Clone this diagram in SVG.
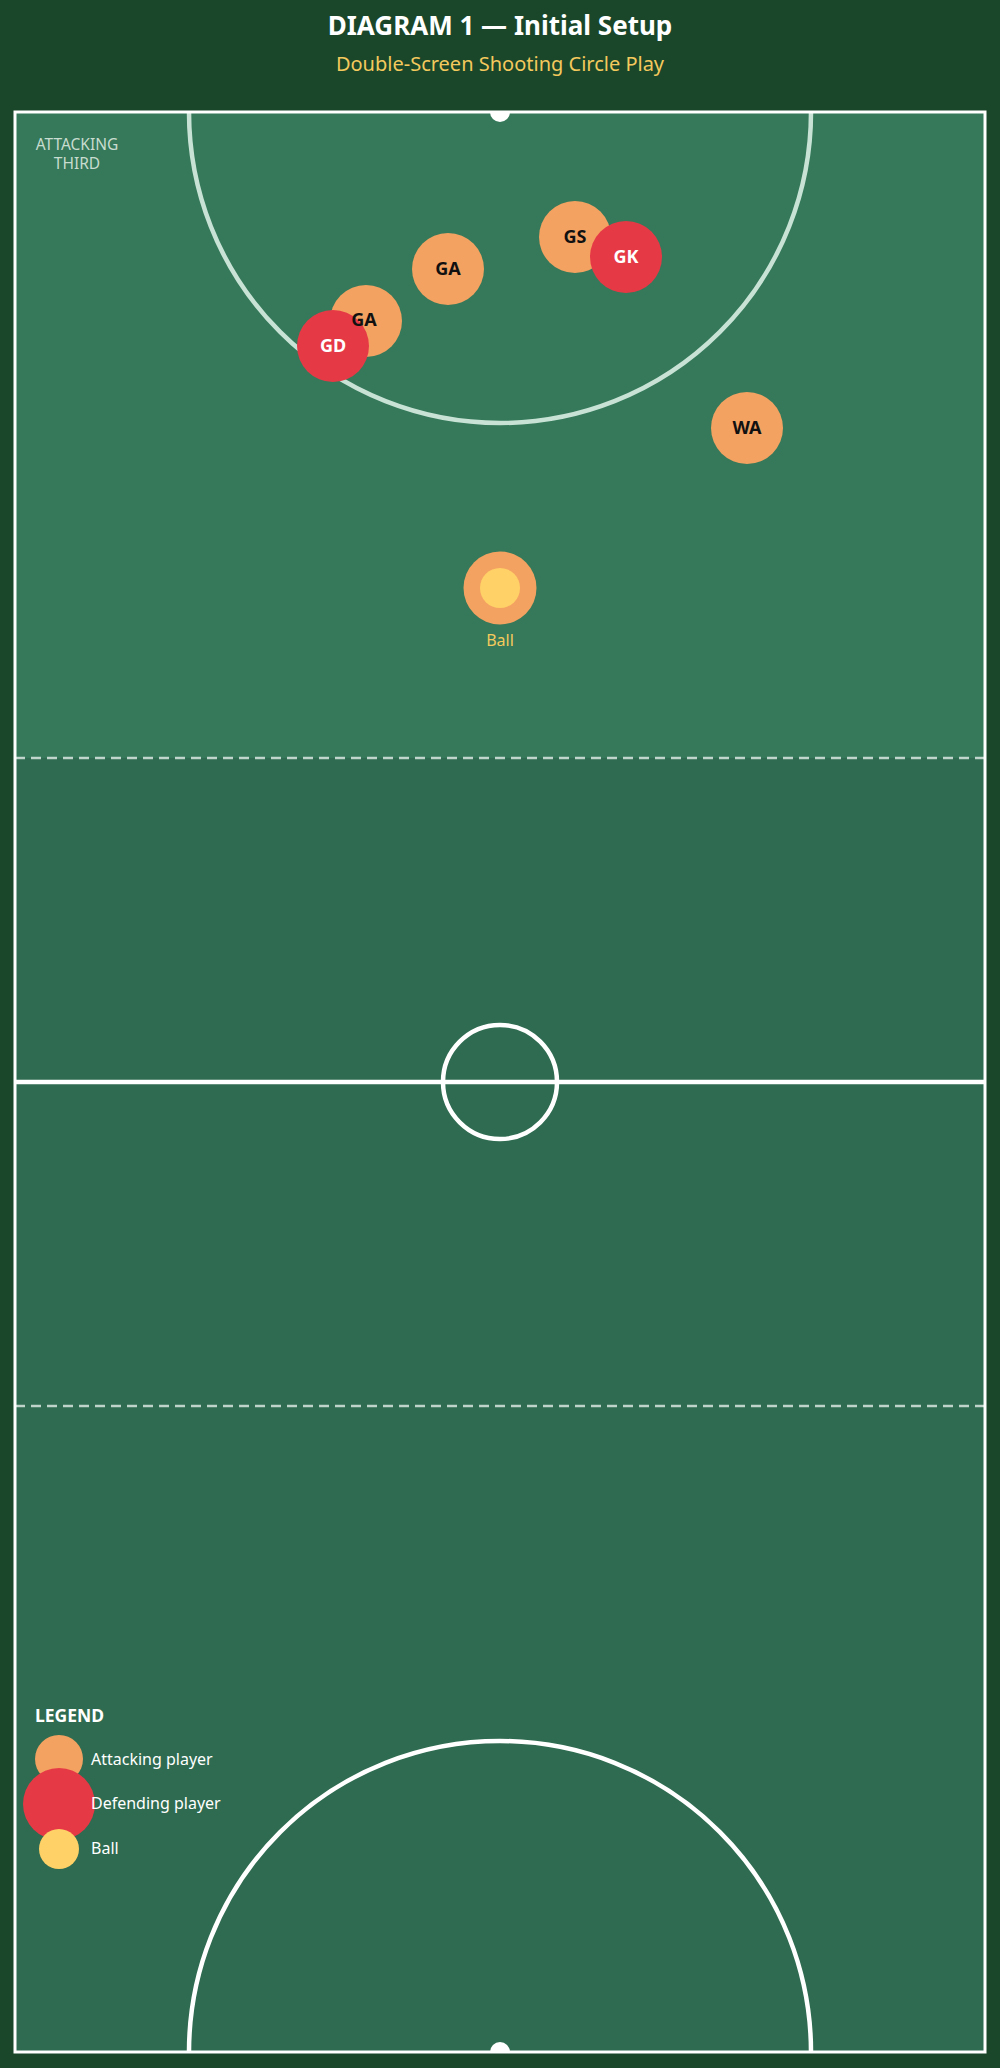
<svg xmlns="http://www.w3.org/2000/svg" width="1000" height="2068" viewBox="0 0 1000 2068">
<style>
text{font-family:"Noto Sans","Open Sans","Liberation Sans",sans-serif}
.title{font-size:26px;font-weight:700;fill:#ffffff}
.sub{font-size:20px;fill:#f4c95d}
.lbl{font-size:18px;font-weight:700;text-anchor:middle}
.att{fill:#f4a261}
.def{fill:#e63946}
.ball{fill:#ffd166}
.line{fill:none;stroke:#ffffff;stroke-width:4.5}
.dash{fill:none;stroke:#ffffff;stroke-opacity:0.7;stroke-width:2.5;stroke-dasharray:10 6}
.leg{font-size:16px;fill:#ffffff}
</style>
<rect x="0" y="0" width="1000" height="2068" fill="#1a472a"/>
<text class="title" x="500" y="35" text-anchor="middle">DIAGRAM 1 — Initial Setup</text>
<text class="sub" x="500" y="71" text-anchor="middle">Double-Screen Shooting Circle Play</text>
<g id="court">
<rect x="15" y="112" width="970" height="1940" fill="#2e6b50"/>
<rect x="15" y="112" width="970" height="646" fill="#35795a"/>
<path d="M189 112 A311 311 0 0 0 811 112" fill="none" stroke="#c8e3d5" stroke-width="4.5"/>
<path d="M189 2052 A311 311 0 0 1 811 2052" class="line"/>
<line x1="15" y1="758" x2="985" y2="758" class="dash"/>
<line x1="15" y1="1406" x2="985" y2="1406" class="dash"/>
<line x1="15" y1="1082" x2="985" y2="1082" class="line"/>
<circle cx="500" cy="1082" r="57" class="line"/>
<rect x="15" y="112" width="970" height="1940" fill="none" stroke="#ffffff" stroke-width="3"/>
<path d="M490 112 A10 10 0 0 0 510 112 Z" fill="#ffffff"/>
<path d="M490 2052 A10 10 0 0 1 510 2052 Z" fill="#ffffff"/>
<text x="77" y="150" text-anchor="middle" font-size="15.5" fill="#c8dccf">ATTACKING</text>
<text x="77" y="168.5" text-anchor="middle" font-size="15.5" fill="#c8dccf">THIRD</text>
</g>
<g id="connectors"></g>
<g id="player-GA2"><circle cx="448" cy="269" r="36" class="att"/></g>
<g id="player-GA1"><circle cx="366" cy="321" r="36" class="att"/></g>
<g id="player-GD"><circle cx="333" cy="346" r="36" class="def"/></g>
<g id="player-GS"><circle cx="575" cy="237" r="36" class="att"/></g>
<g id="player-GK"><circle cx="626" cy="257" r="36" class="def"/></g>
<g id="player-WA"><circle cx="747" cy="428" r="36" class="att"/></g>
<g id="ball"><circle cx="500" cy="588" r="36.5" class="att"/><circle cx="500" cy="588" r="20" class="ball"/><text x="500" y="646" text-anchor="middle" font-size="16" fill="#f4c95d">Ball</text></g>
<g id="labels">
<text class="lbl" x="448" y="275" fill="#111111">GA</text>
<text class="lbl" x="364" y="326" fill="#111111">GA</text>
<text class="lbl" x="333" y="352" fill="#ffffff">GD</text>
<text class="lbl" x="575" y="243" fill="#111111">GS</text>
<text class="lbl" x="626" y="263" fill="#ffffff">GK</text>
<text class="lbl" x="747" y="434" fill="#111111">WA</text>
</g>
<g id="legend">
<text x="35" y="1722" font-size="17.5" font-weight="700" fill="#ffffff">LEGEND</text>
<circle cx="59" cy="1759" r="24" class="att"/>
<text class="leg" x="91" y="1765">Attacking player</text>
<circle cx="59" cy="1804" r="36" class="def"/>
<text class="leg" x="91" y="1809">Defending player</text>
<circle cx="59" cy="1849" r="20" class="ball"/>
<text class="leg" x="91" y="1854">Ball</text>
</g>
</svg>
